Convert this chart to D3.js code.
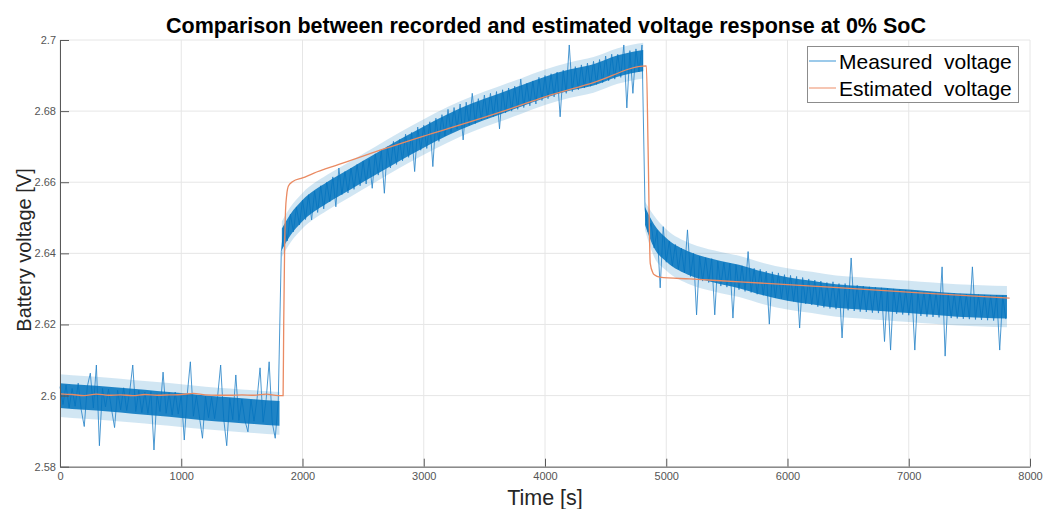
<!DOCTYPE html>
<html>
<head>
<meta charset="utf-8">
<script src="https://cdn.jsdelivr.net/npm/d3@7"></script>
<style>
body { margin: 0; background: #fff; }
text { font-family: "Liberation Sans", Arial, sans-serif; }
</style>
</head>
<body>
<script>
// axis ticks
var xTicks = [0, 1000, 2000, 3000, 4000, 5000, 6000, 7000, 8000];
var yTicks = [2.58, 2.6, 2.62, 2.64, 2.66, 2.68, 2.7];
var yTickLabels = ["2.58", "2.6", "2.62", "2.64", "2.66", "2.68", "2.7"];

// estimated voltage (model output)
var estTime = [0, 100, 200, 300, 400, 500, 600, 700, 800, 900, 1000, 1100, 1200, 1300, 1400, 1500, 1600, 1700, 1800,
  1840, 1845, 1852, 1860, 1870, 1885, 1920, 2000, 2090, 2300, 2640, 3000, 3300, 3700, 4000, 4400, 4836,
  4850, 4868, 4890, 4905, 4946, 5194, 5606, 6348, 7090, 7832];
var estVolt = [2.6005, 2.6003, 2.6000, 2.6004, 2.6001, 2.6002, 2.6000, 2.6003, 2.6001, 2.6002, 2.6003, 2.6006, 2.6002, 2.6001, 2.6001, 2.6002, 2.6001, 2.6004, 2.6000,
  2.6000, 2.6200, 2.6400, 2.6520, 2.6565, 2.6590, 2.6602, 2.6612, 2.6625, 2.6650, 2.6690, 2.6730, 2.6761, 2.6805, 2.6840, 2.6880, 2.6927,
  2.6700, 2.6372, 2.6345, 2.6339, 2.6333, 2.6328, 2.6320, 2.6305, 2.6289, 2.6274];

// measured voltage, one sample every 25 s
var measStep = 25;
// t = 0 .. 1800
var measRest = [
  2.6025, 2.5975, 2.6030, 2.5965, 2.6020, 2.5970, 2.6035, 2.5960, 2.5913, 2.6025,
  2.6063, 2.5965, 2.6086, 2.5859, 2.6020, 2.5968, 2.6018, 2.5962, 2.5910, 2.6015,
  2.5960, 2.6022, 2.5958, 2.6012, 2.6086, 2.5955, 2.6015, 2.5952, 2.6010, 2.5950,
  2.6012, 2.5847, 2.6005, 2.5955, 2.6066, 2.5950, 2.6008, 2.5945, 2.6010, 2.5948,
  2.6003, 2.5875, 2.6005, 2.6095, 2.5942, 2.6000, 2.5940, 2.5880, 2.5998, 2.5938,
  2.5995, 2.5935, 2.5998, 2.6086, 2.5935, 2.5859, 2.5992, 2.5932, 2.6058, 2.5930,
  2.5990, 2.5930, 2.5898, 2.5988, 2.5928, 2.5990, 2.6078, 2.5925, 2.5988, 2.6095,
  2.5925, 2.5880, 2.5985];
// t = 1825 .. 4800
var measCharge = [
  2.6405, 2.6475, 2.6435, 2.6510, 2.6460, 2.6530, 2.6480, 2.6550, 2.6495, 2.6565,
  2.6494, 2.6575, 2.6515, 2.6590, 2.6525, 2.6600, 2.6545, 2.6615, 2.6531, 2.6640,
  2.6565, 2.6630, 2.6570, 2.6640, 2.6580, 2.6650, 2.6590, 2.6660, 2.6595, 2.6665,
  2.6583, 2.6680, 2.6620, 2.6690, 2.6569, 2.6700, 2.6640, 2.6715, 2.6650, 2.6720,
  2.6660, 2.6735, 2.6670, 2.6740, 2.6630, 2.6755, 2.6690, 2.6760, 2.6695, 2.6770,
  2.6644, 2.6780, 2.6715, 2.6790, 2.6730, 2.6805, 2.6740, 2.6810, 2.6750, 2.6820,
  2.6719, 2.6825, 2.6760, 2.6850, 2.6765, 2.6835, 2.6775, 2.6845, 2.6780, 2.6850,
  2.6785, 2.6855, 2.6750, 2.6860, 2.6795, 2.6865, 2.6800, 2.6870, 2.6805, 2.6890,
  2.6810, 2.6878, 2.6815, 2.6885, 2.6820, 2.6895, 2.6830, 2.6900, 2.6835, 2.6905,
  2.6840, 2.6910, 2.6784, 2.6915, 2.6850, 2.6986, 2.6855, 2.6925, 2.6860, 2.6930,
  2.6865, 2.6935, 2.6870, 2.6940, 2.6875, 2.6945, 2.6880, 2.6955, 2.6885, 2.6960,
  2.6890, 2.6960, 2.6895, 2.6986, 2.6809, 2.6970, 2.6850, 2.6975, 2.6910, 2.6986];
// t = 4825 .. 7800
var measRelax = [
  2.6525, 2.6460, 2.6485, 2.6415, 2.6465, 2.6303, 2.6475, 2.6375, 2.6435, 2.6365,
  2.6425, 2.6355, 2.6415, 2.6345, 2.6466, 2.6335, 2.6400, 2.6227, 2.6392, 2.6322,
  2.6388, 2.6318, 2.6385, 2.6227, 2.6378, 2.6308, 2.6375, 2.6305, 2.6372, 2.6218,
  2.6368, 2.6298, 2.6365, 2.6293, 2.6405, 2.6290, 2.6358, 2.6285, 2.6355, 2.6282,
  2.6350, 2.6201, 2.6348, 2.6275, 2.6345, 2.6272, 2.6340, 2.6268, 2.6338, 2.6265,
  2.6335, 2.6190, 2.6332, 2.6258, 2.6328, 2.6255, 2.6325, 2.6250, 2.6322, 2.6248,
  2.6318, 2.6245, 2.6320, 2.6243, 2.6315, 2.6162, 2.6315, 2.6240, 2.6387, 2.6238,
  2.6310, 2.6236, 2.6308, 2.6235, 2.6306, 2.6233, 2.6305, 2.6232, 2.6303, 2.6152,
  2.6302, 2.6128, 2.6300, 2.6230, 2.6298, 2.6228, 2.6297, 2.6226, 2.6295, 2.6128,
  2.6294, 2.6224, 2.6292, 2.6222, 2.6291, 2.6221, 2.6290, 2.6220, 2.6362, 2.6111,
  2.6288, 2.6218, 2.6287, 2.6217, 2.6286, 2.6216, 2.6285, 2.6215, 2.6362, 2.6214,
  2.6284, 2.6213, 2.6283, 2.6212, 2.6282, 2.6211, 2.6282, 2.6128, 2.6281, 2.6215];

// envelope of the measured trace: dense core and lighter fringe
var coreRestTime = [0, 200, 400, 600, 800, 1000, 1200, 1400, 1600, 1810];
var coreRestLo = [2.5965, 2.5960, 2.5955, 2.5949, 2.5943, 2.5937, 2.5930, 2.5925, 2.5920, 2.5915];
var coreRestHi = [2.6035, 2.6030, 2.6025, 2.6019, 2.6013, 2.6007, 2.6000, 2.5995, 2.5990, 2.5985];
var fringeRestLo = [2.5940, 2.5935, 2.5930, 2.5924, 2.5918, 2.5912, 2.5905, 2.5900, 2.5895, 2.5890];
var fringeRestHi = [2.6060, 2.6055, 2.6050, 2.6044, 2.6038, 2.6032, 2.6025, 2.6020, 2.6015, 2.6010];

var coreChargeTime = [1830, 1900, 2000, 2200, 2400, 2600, 2800, 3000, 3200, 3400, 3600, 3800, 4000, 4200, 4400, 4600, 4810];
var coreChargeLo = [2.6410, 2.6450, 2.6490, 2.6540, 2.6580, 2.6620, 2.6660, 2.6697, 2.6732, 2.6762, 2.6787, 2.6812, 2.6837, 2.6857, 2.6872, 2.6897, 2.6912];
var coreChargeHi = [2.6470, 2.6510, 2.6550, 2.6600, 2.6640, 2.6680, 2.6720, 2.6757, 2.6792, 2.6822, 2.6847, 2.6872, 2.6897, 2.6917, 2.6932, 2.6957, 2.6972];
var fringeChargeLo = [2.6390, 2.6430, 2.6470, 2.6520, 2.6560, 2.6600, 2.6640, 2.6677, 2.6712, 2.6742, 2.6767, 2.6792, 2.6817, 2.6837, 2.6852, 2.6877, 2.6892];
var fringeChargeHi = [2.6490, 2.6530, 2.6570, 2.6620, 2.6660, 2.6700, 2.6740, 2.6777, 2.6812, 2.6842, 2.6867, 2.6892, 2.6917, 2.6937, 2.6952, 2.6977, 2.6992];

var coreRelaxTime = [4825, 4900, 5000, 5200, 5400, 5600, 5800, 6000, 6200, 6400, 6600, 6800, 7000, 7200, 7400, 7600, 7810];
var coreRelaxLo = [2.6480, 2.6415, 2.6377, 2.6337, 2.6317, 2.6302, 2.6282, 2.6267, 2.6257, 2.6247, 2.6242, 2.6237, 2.6232, 2.6227, 2.6222, 2.6219, 2.6217];
var coreRelaxHi = [2.6530, 2.6481, 2.6443, 2.6403, 2.6383, 2.6368, 2.6348, 2.6333, 2.6323, 2.6313, 2.6308, 2.6303, 2.6298, 2.6293, 2.6288, 2.6285, 2.6283];
var fringeRelaxLo = [2.6465, 2.6390, 2.6352, 2.6312, 2.6292, 2.6277, 2.6257, 2.6242, 2.6232, 2.6222, 2.6217, 2.6212, 2.6207, 2.6202, 2.6197, 2.6194, 2.6192];
var fringeRelaxHi = [2.6545, 2.6506, 2.6468, 2.6428, 2.6408, 2.6393, 2.6373, 2.6358, 2.6348, 2.6338, 2.6333, 2.6328, 2.6323, 2.6318, 2.6313, 2.6310, 2.6308];

var W = 1054, H = 509;
var pLeft = 60, pRight = 1030, pTop = 40, pBottom = 466.7;

var svg = d3.select("body").append("svg")
  .attr("width", W)
  .attr("height", H);

var x = d3.scaleLinear().domain([0, 8000]).range([pLeft, pRight]);
var y = d3.scaleLinear().domain([2.58, 2.7]).range([pBottom, pTop]);

// grid
svg.append("g").selectAll("line").data(xTicks).enter().append("line")
  .attr("x1", function(d) { return x(d); })
  .attr("x2", function(d) { return x(d); })
  .attr("y1", pTop).attr("y2", pBottom)
  .attr("stroke", "#e6e6e6").attr("stroke-width", 1);
svg.append("g").selectAll("line").data(yTicks).enter().append("line")
  .attr("x1", pLeft).attr("x2", pRight)
  .attr("y1", function(d) { return y(d); })
  .attr("y2", function(d) { return y(d); })
  .attr("stroke", "#e6e6e6").attr("stroke-width", 1);

var band = d3.area()
  .x(function(d) { return x(d[0]); })
  .y0(function(d) { return y(d[1]); })
  .y1(function(d) { return y(d[2]); })
  .curve(d3.curveMonotoneX);

function drawBand(times, lo, hi, opacity) {
  var pts = times.map(function(t, i) { return [t, lo[i], hi[i]]; });
  svg.append("path")
    .datum(pts)
    .attr("d", band)
    .attr("fill", "#0072BD")
    .attr("fill-opacity", opacity);
}

// fringe
drawBand(coreRestTime, fringeRestLo, fringeRestHi, 0.18);
drawBand(coreChargeTime, fringeChargeLo, fringeChargeHi, 0.18);
drawBand(coreRelaxTime, fringeRelaxLo, fringeRelaxHi, 0.18);

// measured samples
var measVolt = measRest.concat(measCharge, measRelax);
var meas = measVolt.map(function(v, i) { return [i * measStep, v]; });

var line = d3.line()
  .x(function(d) { return x(d[0]); })
  .y(function(d) { return y(d[1]); });

svg.append("path")
  .datum(meas)
  .attr("d", line)
  .attr("fill", "none")
  .attr("stroke", "#2b86c9")
  .attr("stroke-opacity", 0.85)
  .attr("stroke-width", 1);

// dense core
drawBand(coreRestTime, coreRestLo, coreRestHi, 0.85);
drawBand(coreChargeTime, coreChargeLo, coreChargeHi, 0.85);
drawBand(coreRelaxTime, coreRelaxLo, coreRelaxHi, 0.85);

// estimated
var est = estTime.map(function(t, i) { return [t, estVolt[i]]; });
svg.append("path")
  .datum(est)
  .attr("d", line.curve(d3.curveMonotoneX))
  .attr("fill", "none")
  .attr("stroke", "#ea8a62")
  .attr("stroke-width", 1.3);

// axes
var xAxis = d3.axisBottom(x).tickValues(xTicks).tickSizeInner(-8).tickSizeOuter(0).tickPadding(6)
  .tickFormat(d3.format("d"));
var gx = svg.append("g").attr("transform", "translate(0," + pBottom + ")").call(xAxis);
var yAxis = d3.axisLeft(y).tickValues(yTicks).tickSizeInner(-9).tickSizeOuter(0).tickPadding(4)
  .tickFormat(function(d, i) { return yTickLabels[i]; });
var gy = svg.append("g").attr("transform", "translate(" + pLeft + ",0)").call(yAxis);

[gx, gy].forEach(function(g) {
  g.select(".domain").attr("stroke", "#595959");
  g.selectAll(".tick line").attr("stroke", "#595959");
  g.selectAll(".tick text").attr("fill", "#555").style("font-size", "11px")
    .style("font-family", "'Liberation Sans', Arial, sans-serif");
});

// titles
svg.append("text")
  .attr("x", 546).attr("y", 33)
  .attr("text-anchor", "middle")
  .style("font-size", "21.5px").style("font-weight", "bold")
  .attr("fill", "#000")
  .text("Comparison between recorded and estimated voltage response at 0% SoC");

svg.append("text")
  .attr("x", 545).attr("y", 505)
  .attr("text-anchor", "middle")
  .style("font-size", "21.5px")
  .attr("fill", "#262626")
  .text("Time [s]");

svg.append("text")
  .attr("transform", "translate(31,250) rotate(-90)")
  .attr("text-anchor", "middle")
  .style("font-size", "20px")
  .attr("fill", "#262626")
  .text("Battery voltage [V]");

// legend
var legend = svg.append("g");
legend.append("rect")
  .attr("x", 807.5).attr("y", 46.5)
  .attr("width", 211).attr("height", 56)
  .attr("fill", "#fff")
  .attr("stroke", "#8c8c8c");

var legendItems = [
  { label: "Measured  voltage", color: "#5aa6dc" },
  { label: "Estimated  voltage", color: "#f0a080" }
];
legendItems.forEach(function(d, i) {
  var cy = 61 + i * 27;
  legend.append("line")
    .attr("x1", 809).attr("x2", 836)
    .attr("y1", cy).attr("y2", cy)
    .attr("stroke", d.color).attr("stroke-width", 1.2);
  legend.append("text")
    .attr("x", 839).attr("y", cy + 8)
    .style("font-size", "21px")
    .style("white-space", "pre")
    .attr("fill", "#000")
    .text(d.label);
});
</script>
</body>
</html>
